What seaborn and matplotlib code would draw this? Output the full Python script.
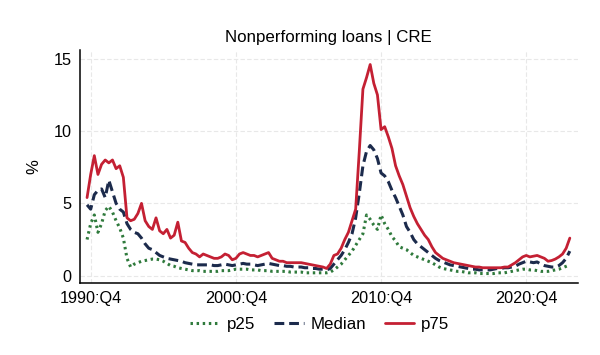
import numpy as np
import pandas as pd
import matplotlib
matplotlib.use("Agg")
import matplotlib.pyplot as plt
import seaborn as sns

# Quarterly series, 1990Q3 .. 2023Q4 (percent)
periods = pd.period_range("1990Q3", "2023Q4", freq="Q")

p25 = [2.5, 3.6, 4.2, 3.0, 3.6, 4.5, 4.8, 4.4, 3.8, 3.3,
       2.6, 1.2, 0.6, 0.8, 0.9, 1.0, 1.05, 1.1, 1.15, 1.15,
       1.1, 1.0, 0.85, 0.7, 0.65, 0.55, 0.5, 0.45, 0.4, 0.35,
       0.35, 0.35, 0.3, 0.3, 0.3, 0.3, 0.3, 0.35, 0.35, 0.35,
       0.4, 0.45, 0.45, 0.45, 0.45, 0.4, 0.4, 0.4, 0.35, 0.35,
       0.35, 0.3, 0.3, 0.3, 0.3, 0.3, 0.25, 0.25, 0.25, 0.25,
       0.2, 0.2, 0.2, 0.2, 0.2, 0.2, 0.2, 0.25, 0.4, 0.6,
       0.8, 1.1, 1.4, 1.7, 2.1, 2.5, 2.9, 4.2, 3.9, 3.5,
       3.2, 4.2, 3.6, 3.2, 2.7, 2.4, 2.0, 1.9, 1.8, 1.6,
       1.4, 1.3, 1.2, 1.1, 1.0, 0.9, 0.75, 0.6, 0.5, 0.45,
       0.4, 0.35, 0.3, 0.3, 0.25, 0.2, 0.2, 0.2, 0.15, 0.15,
       0.15, 0.15, 0.15, 0.2, 0.2, 0.2, 0.25, 0.3, 0.35, 0.4,
       0.45, 0.45, 0.4, 0.4, 0.35, 0.3, 0.3, 0.3, 0.35, 0.4,
       0.45, 0.55, 0.65, 0.75]

median = [4.9, 4.6, 5.6, 5.9, 6.0, 5.4, 6.6, 5.8, 5.0, 4.6,
          4.4, 3.6, 3.2, 3.0, 2.9, 2.6, 2.2, 1.9, 1.8, 1.6,
          1.4, 1.3, 1.2, 1.15, 1.1, 1.05, 1.0, 0.9, 0.85, 0.8,
          0.75, 0.75, 0.75, 0.75, 0.75, 0.7, 0.7, 0.75, 0.8, 0.75,
          0.7, 0.75, 0.8, 0.85, 0.8, 0.8, 0.75, 0.7, 0.75, 0.8,
          0.85, 0.8, 0.75, 0.7, 0.7, 0.65, 0.65, 0.6, 0.6, 0.6,
          0.55, 0.55, 0.5, 0.5, 0.45, 0.45, 0.4, 0.5, 0.8, 1.1,
          1.4, 1.8, 2.3, 2.9, 4.0, 5.7, 7.6, 8.6, 9.0, 8.7,
          8.1, 7.1, 6.9, 6.5, 5.9, 5.4, 4.8, 4.2, 3.4, 3.0,
          2.5, 2.2, 2.0, 1.8, 1.6, 1.4, 1.2, 1.05, 0.95, 0.85,
          0.75, 0.7, 0.65, 0.6, 0.55, 0.5, 0.45, 0.45, 0.4, 0.4,
          0.4, 0.4, 0.45, 0.5, 0.5, 0.55, 0.55, 0.6, 0.65, 0.8,
          0.9, 1.0, 0.95, 0.9, 0.95, 0.8, 0.7, 0.65, 0.6, 0.6,
          0.7, 0.9, 1.2, 1.7]

p75 = [5.4, 7.0, 8.3, 7.0, 7.7, 8.0, 7.8, 8.0, 7.4, 7.6,
       6.8, 4.0, 3.8, 3.9, 4.3, 5.0, 3.8, 3.4, 3.2, 4.0,
       3.1, 2.9, 3.2, 2.6, 2.8, 3.7, 2.4, 2.3, 1.9, 1.6,
       1.5, 1.3, 1.5, 1.4, 1.3, 1.2, 1.2, 1.3, 1.5, 1.4,
       1.1, 1.2, 1.5, 1.6, 1.5, 1.4, 1.4, 1.3, 1.4, 1.5,
       1.6, 1.2, 1.1, 1.0, 1.0, 0.9, 0.9, 0.9, 0.9, 0.9,
       0.85, 0.8, 0.75, 0.7, 0.65, 0.6, 0.5, 0.8, 1.4, 1.5,
       1.9, 2.5, 3.0, 3.8, 4.6, 8.6, 12.9, 13.7, 14.6, 13.3,
       12.5, 10.1, 10.3, 9.6, 8.8, 7.6, 6.9, 6.3, 5.5, 4.7,
       4.1, 3.6, 3.2, 2.8, 2.5, 2.0, 1.6, 1.4, 1.2, 1.1,
       1.0, 0.9, 0.85, 0.8, 0.75, 0.7, 0.65, 0.6, 0.6, 0.55,
       0.55, 0.55, 0.55, 0.55, 0.55, 0.6, 0.6, 0.75, 0.9, 1.1,
       1.3, 1.4, 1.3, 1.35, 1.4, 1.3, 1.2, 1.0, 1.05, 1.15,
       1.3, 1.5, 1.9, 2.6]

tick_labels = ["1990:Q4", "2000:Q4", "2010:Q4", "2020:Q4"]

# decimal time axis
t = np.array([p.year + (p.quarter - 1) / 4 for p in periods])
df = pd.DataFrame({"t": t, "p25": p25, "Median": median, "p75": p75})
tick_pos = [int(s[:4]) + 0.75 for s in tick_labels]

sns.set_style("white")
plt.rcParams["font.family"] = ["Liberation Sans", "DejaVu Sans"]
plt.rcParams["text.color"] = "black"
plt.rcParams["axes.labelcolor"] = "black"
plt.rcParams["xtick.color"] = "black"
plt.rcParams["ytick.color"] = "black"

fig = plt.figure(figsize=(6, 3.55), dpi=100)
ax = fig.add_axes([0.133, 0.203, 0.830, 0.656])

green = "#2f7a3c"
navy = "#1c2b4c"
red = "#c42033"

sns.lineplot(data=df, x="t", y="p25", ax=ax, color=green, lw=2.2,
             linestyle=(0, (0.8, 1.2)), label="p25")
sns.lineplot(data=df, x="t", y="Median", ax=ax, color=navy, lw=2.2,
             linestyle=(0, (3.2, 1.6)), label="Median")
sns.lineplot(data=df, x="t", y="p75", ax=ax, color=red, lw=2.0,
             label="p75")

ax.set_xlim(1990.0, 2024.3)
ax.set_ylim(-0.5, 15.6)
ax.set_xticks(tick_pos)
ax.set_xticklabels(tick_labels)
ax.set_yticks([0, 5, 10, 15])
ax.grid(True, color="#e8e8e8", lw=0.8, linestyle=(0, (4, 2)))
ax.tick_params(axis="both", direction="out", length=4, width=1,
               labelsize=11.7, color="black", pad=2)
for s in ["top", "right"]:
    ax.spines[s].set_visible(False)
for s in ["left", "bottom"]:
    ax.spines[s].set_color("black")
    ax.spines[s].set_linewidth(1.1)

ax.set_xlabel("")
ax.set_ylabel("%", fontsize=12, labelpad=9)
ax.set_title("Nonperforming loans | CRE", fontsize=12.2, pad=6)

ax.legend(loc="center", bbox_to_anchor=(0.482, -0.18), ncol=3,
          frameon=False, fontsize=12.2, handlelength=1.75,
          columnspacing=1.1, handletextpad=0.4)

fig.savefig("out.png", dpi=100)
